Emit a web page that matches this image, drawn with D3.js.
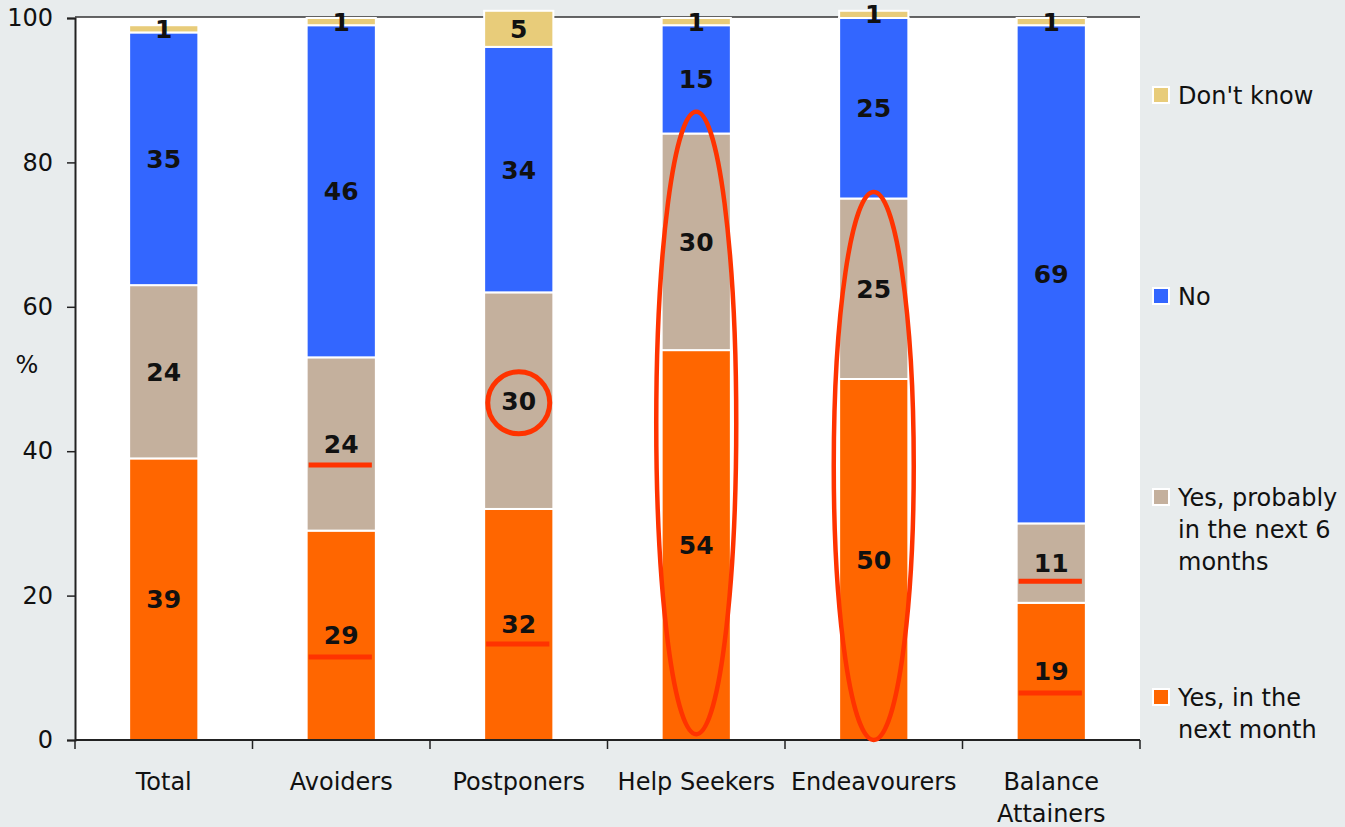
<!DOCTYPE html>
<html>
<head>
<meta charset="utf-8">
<script src="https://cdn.jsdelivr.net/npm/d3@7/dist/d3.min.js"></script>
<style>
  html, body { margin: 0; padding: 0; background: #e8eced; }
  svg { display: block; }
  text { font-family: "DejaVu Sans", sans-serif; fill: #111; }
</style>
</head>
<body>
<svg id="chart" width="1345" height="827"></svg>
<script>
// Survey segments along the x axis
const categories = ["Total", "Avoiders", "Postponers", "Help Seekers", "Endeavourers", "Balance Attainers"];
const categoryLines = [["Total"], ["Avoiders"], ["Postponers"], ["Help Seekers"], ["Endeavourers"], ["Balance", "Attainers"]];

// Stacked series, bottom to top (%)
const nextMonth   = [39, 29, 32, 54, 50, 19];
const next6Months = [24, 24, 30, 30, 25, 11];
const noAnswer    = [35, 46, 34, 15, 25, 69];
const dontKnow    = [1, 1, 5, 1, 1, 1];

const seriesKeys = ["nextMonth", "next6Months", "no", "dontKnow"];
const seriesColors = ["#ff6600", "#c4b09d", "#3366ff", "#e8cc7a"];
const legendLines = [
  ["Yes, in the", "next month"],
  ["Yes, probably", "in the next 6", "months"],
  ["No"],
  ["Don't know"]
];

const yTicks = [0, 20, 40, 60, 80, 100];

// Highlight annotations, in data units
const underlines = [
  { cat: "Avoiders", value: 38.1 },
  { cat: "Avoiders", value: 11.5 },
  { cat: "Postponers", value: 13.3 },
  { cat: "Balance Attainers", value: 22 },
  { cat: "Balance Attainers", value: 6.5 }
];
const circles = [{ cat: "Postponers", value: 46.7 }];
const ellipses = [
  { cat: "Help Seekers", from: 0.8, to: 87 },
  { cat: "Endeavourers", from: 0, to: 75.9 }
];

const rows = categories.map((c, i) => ({
  cat: c,
  nextMonth: nextMonth[i],
  next6Months: next6Months[i],
  no: noAnswer[i],
  dontKnow: dontKnow[i]
}));

const svg = d3.select("#chart");
const plotLeft = 75, plotRight = 1140, plotTop = 18, plotBottom = 740;
const condensed = "'DejaVu Sans Condensed', 'DejaVu Sans', sans-serif";

const x = d3.scaleBand().domain(categories).range([plotLeft, plotRight])
  .paddingInner(0.61).paddingOuter(0.305);
const y = d3.scaleLinear().domain([0, 100]).range([plotBottom, plotTop]);
const color = d3.scaleOrdinal().domain(seriesKeys).range(seriesColors);

// plot area
svg.append("rect").attr("x", plotLeft).attr("y", plotTop - 1)
  .attr("width", plotRight - plotLeft).attr("height", plotBottom - plotTop + 1)
  .attr("fill", "#ffffff");
svg.append("line").attr("x1", plotLeft).attr("x2", plotRight).attr("y1", plotTop - 1).attr("y2", plotTop - 1)
  .attr("stroke", "#333").attr("stroke-width", 1.5);

// stacked bars
const stacked = d3.stack().keys(seriesKeys)(rows);
const layers = svg.append("g").selectAll("g").data(stacked).join("g")
  .attr("fill", d => color(d.key));
layers.selectAll("rect").data(d => d).join("rect")
  .attr("x", d => x(d.data.cat))
  .attr("width", x.bandwidth())
  .attr("y", d => y(d[1]))
  .attr("height", d => y(d[0]) - y(d[1]))
  .attr("stroke", "#ffffff").attr("stroke-width", 2);

// value labels
const labels = svg.append("g");
stacked.forEach(layer => {
  labels.append("g").selectAll("text").data(layer).join("text")
    .attr("x", d => x(d.data.cat) + x.bandwidth() / 2)
    .attr("y", d => y((d[0] + d[1]) / 2))
    .attr("dy", "0.36em")
    .attr("text-anchor", "middle")
    .attr("font-family", condensed)
    .attr("font-weight", "bold")
    .attr("font-size", 25)
    .text(d => d.data[layer.key]);
});

// axes
const yAxis = svg.append("g").attr("transform", `translate(${plotLeft},0)`)
  .call(d3.axisLeft(y).tickValues(yTicks).tickSize(8).tickPadding(14));
yAxis.select(".domain").attr("stroke", "#222").attr("stroke-width", 2);
yAxis.selectAll(".tick line").attr("stroke", "#222").attr("stroke-width", 1.5);
yAxis.selectAll(".tick text").attr("font-size", 24).attr("fill", "#111")
  .attr("font-family", condensed);

const bounds = d3.range(categories.length + 1).map(i => plotLeft + i * x.step());
const xAxis = svg.append("g");
xAxis.append("line").attr("x1", plotLeft).attr("x2", plotRight).attr("y1", plotBottom).attr("y2", plotBottom)
  .attr("stroke", "#222").attr("stroke-width", 2);
xAxis.selectAll(".tk").data(bounds).join("line").attr("class", "tk")
  .attr("x1", d => d).attr("x2", d => d).attr("y1", plotBottom).attr("y2", plotBottom + 9)
  .attr("stroke", "#222").attr("stroke-width", 1.5);
xAxis.selectAll("text").data(categories).join("text")
  .attr("x", d => x(d) + x.bandwidth() / 2)
  .attr("y", 790)
  .attr("text-anchor", "middle")
  .attr("font-size", 24)
  .each(function(d, i) {
    d3.select(this).selectAll("tspan").data(categoryLines[i]).join("tspan")
      .attr("x", x(d) + x.bandwidth() / 2)
      .attr("dy", (t, j) => j === 0 ? 0 : 32)
      .text(t => t);
  });

svg.append("text").attr("x", 27).attr("y", 364).attr("dy", "0.36em")
  .attr("text-anchor", "middle").attr("font-size", 24).text("%");

// legend
const legendY = [697, 497, 296, 95];
const legend = svg.append("g").selectAll("g").data(seriesKeys).join("g")
  .attr("transform", (d, i) => `translate(1153,${legendY[i]})`);
legend.append("rect").attr("x", 0).attr("y", -8).attr("width", 16).attr("height", 16)
  .attr("fill", d => color(d)).attr("stroke", "#ffffff").attr("stroke-width", 2);
legend.append("text").attr("x", 25).attr("y", 0).attr("font-size", 24)
  .each(function(d, i) {
    d3.select(this).selectAll("tspan").data(legendLines[i]).join("tspan")
      .attr("x", 25).attr("dy", (t, j) => j === 0 ? "0.36em" : 32)
      .text(t => t);
  });

// highlight marks
const red = "#ff3300";
const notes = svg.append("g").attr("fill", "none").attr("stroke", red);
notes.selectAll("line").data(underlines).join("line")
  .attr("x1", d => x(d.cat) + 2).attr("x2", d => x(d.cat) + x.bandwidth() - 4)
  .attr("y1", d => y(d.value)).attr("y2", d => y(d.value))
  .attr("stroke-width", 5);
notes.selectAll("circle").data(circles).join("circle")
  .attr("cx", d => x(d.cat) + x.bandwidth() / 2).attr("cy", d => y(d.value))
  .attr("r", 31).attr("stroke-width", 5);
notes.selectAll("ellipse").data(ellipses).join("ellipse")
  .attr("cx", d => x(d.cat) + x.bandwidth() / 2)
  .attr("cy", d => (y(d.from) + y(d.to)) / 2)
  .attr("rx", 40)
  .attr("ry", d => (y(d.from) - y(d.to)) / 2)
  .attr("stroke-width", 4.5);
</script>
</body>
</html>
